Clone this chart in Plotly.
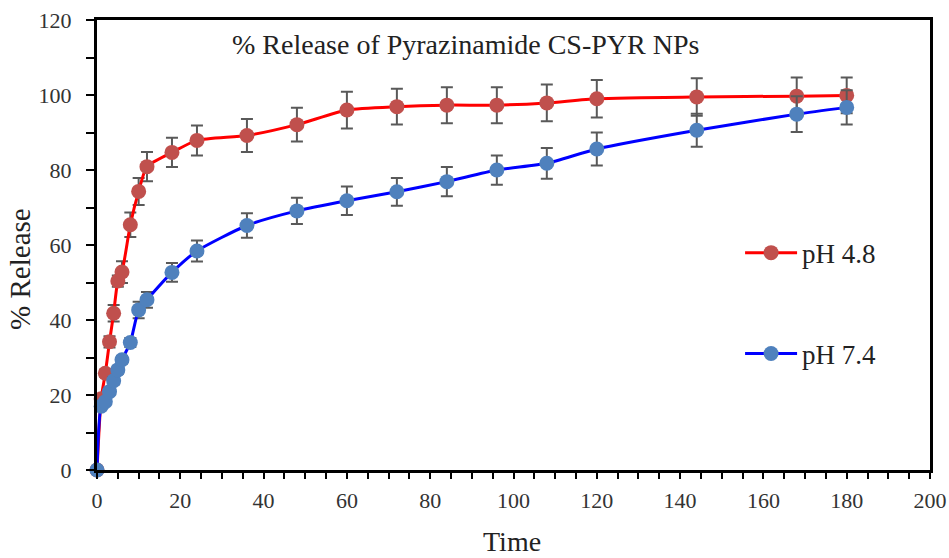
import plotly.graph_objects as go

# Data
time_red = [0, 1, 2, 3, 4, 5, 6, 8, 10, 12, 18, 24, 36, 48, 60, 72, 84, 96, 108, 120, 144, 168, 180]
rel_red = [0, 19, 25.8, 34.2, 41.8, 50.4, 52.8, 65.4, 74.3, 80.9, 84.7, 87.9, 89.2, 92.1, 96.0, 96.9, 97.3, 97.3, 97.9, 99.0, 99.5, 99.7, 99.9]
err_red = [0, 1.0, 1.0, 1.5, 2.2, 1.5, 2.9, 3.3, 3.6, 3.9, 3.9, 4.0, 4.4, 4.5, 4.9, 4.8, 4.8, 4.8, 4.9, 5.0, 5.0, 5.0, 4.8]

time_blue = [0, 1, 2, 3, 4, 5, 6, 8, 10, 12, 18, 24, 36, 48, 60, 72, 84, 96, 108, 120, 144, 168, 180]
rel_blue = [0, 17.0, 18.2, 20.9, 23.8, 26.7, 29.4, 34.0, 42.7, 45.4, 52.7, 58.4, 65.2, 69.1, 71.8, 74.2, 76.9, 80.0, 81.8, 85.6, 90.6, 94.9, 96.7]
err_blue = [0, 0.5, 0.5, 0.8, 1.0, 1.0, 1.0, 1.2, 2.2, 2.1, 2.5, 2.8, 3.3, 3.5, 3.8, 3.7, 3.9, 3.9, 4.1, 4.4, 4.4, 4.8, 4.6]

title_text = "% Release of Pyrazinamide CS-PYR NPs"
x_title = "Time"
y_title = "% Release"

FONT = "Liberation Serif"

fig = go.Figure()

fig.add_trace(go.Scatter(
    x=time_red, y=rel_red, name="pH 4.8", mode="lines+markers",
    line=dict(color="#FF0000", width=3, shape="spline", smoothing=0.6),
    marker=dict(color="#C0504D", size=15, line=dict(width=0)),
    error_y=dict(type="data", array=err_red, visible=True, color="#595959", thickness=2, width=6),
    cliponaxis=False, legend="legend",
))
fig.add_trace(go.Scatter(
    x=time_blue, y=rel_blue, name="pH 7.4", mode="lines+markers",
    line=dict(color="#0000FF", width=3, shape="spline", smoothing=0.6),
    marker=dict(color="#4F81BD", size=15, line=dict(width=0)),
    error_y=dict(type="data", array=err_blue, visible=True, color="#595959", thickness=2, width=6),
    cliponaxis=False, legend="legend2",
))

legend_common = dict(
    font=dict(family=FONT, size=27, color="#222222"),
    bgcolor="rgba(0,0,0,0)", borderwidth=0, itemwidth=52,
    xanchor="left", yanchor="middle",
)
fig.update_layout(
    width=949, height=558,
    margin=dict(l=97, r=19, t=20, b=88),
    paper_bgcolor="white", plot_bgcolor="white",
    font=dict(family=FONT, color="#333333"),
    showlegend=True,
    legend=dict(x=0.772, y=0.482, **legend_common),
    legend2=dict(x=0.772, y=0.258, **legend_common),
    xaxis=dict(
        range=[0, 200], dtick=20, tick0=0, automargin=False,
        showgrid=False, zeroline=False,
        showline=True, linecolor="black", linewidth=3, mirror=True,
        ticks="outside", ticklen=6, tickwidth=2, tickcolor="black",
        minor=dict(dtick=5, ticks="outside", ticklen=6, tickwidth=2, tickcolor="black"),
        tickfont=dict(family=FONT, size=22, color="#333333"),
        ticklabelstandoff=3,
    ),
    yaxis=dict(
        range=[0, 120], dtick=20, tick0=0, automargin=False,
        showgrid=False, zeroline=False,
        showline=True, linecolor="black", linewidth=3, mirror=True,
        ticks="outside", ticklen=8, tickwidth=2, tickcolor="black",
        minor=dict(dtick=10, ticks="outside", ticklen=8, tickwidth=2, tickcolor="black"),
        tickfont=dict(family=FONT, size=22, color="#333333"),
        ticklabelstandoff=10,
    ),
    annotations=[
        dict(text=title_text, xref="paper", yref="paper", x=0.442, y=0.945,
             xanchor="center", yanchor="middle", showarrow=False,
             font=dict(family=FONT, size=28, color="#222222")),
        dict(text=x_title, xref="paper", yref="paper", x=0.498, y=-0.158,
             xanchor="center", yanchor="middle", showarrow=False,
             font=dict(family=FONT, size=28, color="#222222")),
        dict(text=y_title, xref="paper", yref="paper", x=-0.0924, y=0.447,
             xanchor="center", yanchor="middle", showarrow=False, textangle=-90,
             font=dict(family=FONT, size=29, color="#222222")),
    ],
)

fig.write_html("out.html")
